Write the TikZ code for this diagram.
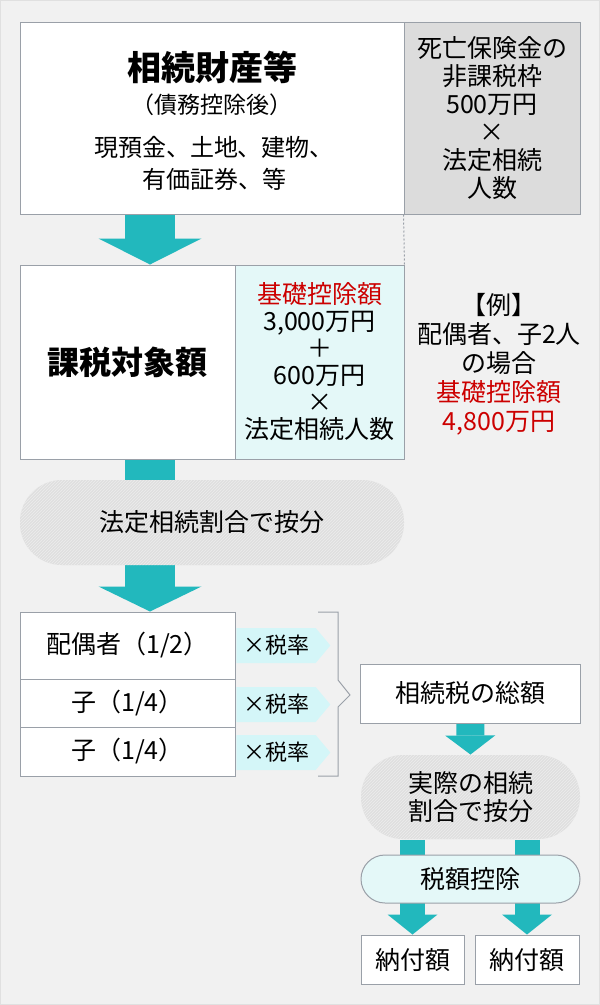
\documentclass[tikz,border=0pt]{standalone}
\usepackage{fontspec}
\setmainfont{Noto Sans CJK JP}
\usetikzlibrary{arrows.meta,shapes.symbols,patterns}
\definecolor{flowteal}{HTML}{22B8BD}
\definecolor{boxline}{HTML}{9AA0A8}
\definecolor{pillgrey}{HTML}{DFDFDF}
\definecolor{insgrey}{HTML}{DCDCDC}
\definecolor{paleteal}{HTML}{E4F8F8}
\definecolor{tagteal}{HTML}{D4F6F8}
\definecolor{deductred}{HTML}{CC0000}
\definecolor{pagebg}{HTML}{F1F1F1}
\newcommand{\fs}[2]{\fontsize{#1}{#2}\selectfont}
\pgfdeclarelayer{back}
\pgfsetlayers{back,main}

\begin{document}
\begin{tikzpicture}[x=1pt,y=-1pt]
	\tikzset{box/.style={draw=boxline,line width=1pt,fill=white,inner sep=0pt,align=center,font=\fs{25}{28}}}
	\tikzset{pill/.style={box,draw=none,fill=pillgrey,postaction={pattern=north east lines,pattern color=white!45!pillgrey}}}
	\tikzset{tag/.style={signal,signal to=east,signal pointer angle=100,fill=tagteal,minimum width=94pt,minimum height=35pt,inner sep=0pt,font=\fs{22}{22}}}
	\tikzset{flow/.style n args={3}{flowteal,line width=#1,-{Triangle[width=#2,length=#3,line width=0pt]}}}
	\useasboundingbox (0,0) rectangle (600,1005);
	\begin{pgfonlayer}{back}
		\fill[pagebg] (0,0) rectangle (600,1005);
		\draw[black!12] (0.5,0.5) rectangle (599.5,1004.5);
	\end{pgfonlayer}
	% top: estate and insurance allowance
	\node[box,minimum width=384pt,minimum height=192pt] (asset) at (212,118) {};
	\node[font=\bfseries\fs{34}{34}] (assettitle) at (212,67) {相続財産等};
	\node[font=\fs{23}{23}] (assetnote) at (212,105) {（債務控除後）};
	\node[font=\fs{24}{32},align=center] (assetlist) at (214,163) {現預金、土地、建物、\\有価証券、等};
	\node[box,fill=insgrey,minimum width=176pt,minimum height=192pt] (insurance) at (492,118)
		{死亡保険金の\\非課税枠\\500万円\\×\\法定相続\\人数};
	% taxable amount and basic deduction
	\node[box,minimum width=215pt,minimum height=194pt,font=\bfseries\fs{32}{32}] (taxable) at (127.5,362) {課税対象額};
	\node[box,fill=paleteal,minimum width=169pt,minimum height=194pt,font=\fs{25}{27}] (deduct) at (319.5,362)
		{{\color{deductred}基礎控除額}\\3,000万円\\＋\\600万円\\×\\法定相続人数};
	\node[align=center,font=\fs{25}{29}] (example) at (499,364.5)
		{【例】\\配偶者、子2人\\の場合\\\textcolor{deductred}{基礎控除額}\\\textcolor{deductred}{4,800万円}};
	\node[pill,rounded corners=42pt,minimum width=384pt,minimum height=85pt] (split) at (212,522.5) {法定相続割合で按分};
	% heirs
	\node[box,minimum width=215pt,minimum height=67pt,font=\fs{25}{25}] (spouse) at (127.5,645.5) {配偶者（1/2）};
	\node[box,minimum width=215pt,minimum height=48pt,font=\fs{25}{25}] (childa) at (127.5,703) {子（1/4）};
	\node[box,minimum width=215pt,minimum height=49pt,font=\fs{25}{25}] (childb) at (127.5,751.5) {子（1/4）};
	\node[tag] (ratea) at (276,645.5) {×税率};
	\node[tag] (rateb) at (276,704.5) {×税率};
	\node[tag] (ratec) at (276,752.5) {×税率};
	\draw[boxline,line width=1pt] (318,612) -- (338,612) -- (338,680) -- (350,695) -- (338,707) -- (338,776) -- (318,776);
	% right column
	\node[box,minimum width=220pt,minimum height=59pt] (total) at (470,693.5) {相続税の総額};
	\node[pill,rounded corners=42pt,minimum width=219pt,minimum height=84pt] (actual) at (470.5,797) {実際の相続\\割合で按分};
	\node[box,fill=paleteal,rounded corners=24pt,minimum width=219pt,minimum height=48pt] (credit) at (470.5,879) {税額控除};
	\node[box,minimum width=103pt,minimum height=49pt] (paya) at (412.5,959.5) {納付額};
	\node[box,minimum width=104pt,minimum height=49pt] (payb) at (527,959.5) {納付額};
	\coordinate (mainx) at (150,0);
	\draw[boxline,line width=1pt,dash pattern=on 2pt off 2pt] (insurance.south west) -- (deduct.north east);
	\begin{pgfonlayer}{back}
		\draw[flow={50pt}{103pt}{26pt}] (asset.south -| mainx) -- (taxable.north -| mainx);
		\draw[flow={50pt}{103pt}{25pt}] (taxable.south -| mainx) -- (spouse.north -| mainx);
		\draw[flow={28pt}{50pt}{19pt}] (total) -- (actual.north);
		\draw[flow={25pt}{50pt}{20pt}] (actual.south -| paya) -- (paya.north);
		\draw[flow={25pt}{50pt}{20pt}] (actual.south -| payb) -- (payb.north);
	\end{pgfonlayer}
\end{tikzpicture}
\end{document}
